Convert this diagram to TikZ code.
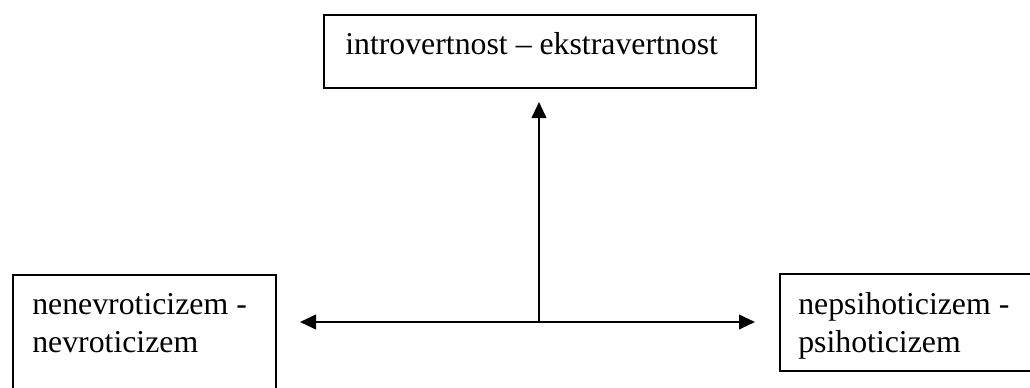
\documentclass[tikz,border=0pt]{standalone}
\usepackage{fontspec}
\setmainfont{Liberation Serif}
\usetikzlibrary{arrows.meta}
\begin{document}
\begin{tikzpicture}[x=0.75pt,y=-0.75pt,
  box/.style={draw, line width=1.4pt, inner sep=0pt, anchor=north west},
  lbl/.style={inner sep=0pt, align=left, anchor=base west, font=\fontsize{23.85pt}{28.5pt}\selectfont},
  arr/.style={line width=1.4pt, -{Triangle[length=12pt,width=11pt]}},
  darr/.style={line width=1.4pt, {Triangle[length=12pt,width=11pt]}-{Triangle[length=12pt,width=11pt]}}]
\useasboundingbox (0,0) rectangle (1030,387);
\clip (0,0) rectangle (1030,387);
\node[box, minimum width=324pt, minimum height=54.75pt] (topbox) at (323,14) {};
\node[box, minimum width=197.25pt, minimum height=102pt] (leftbox) at (12,274) {};
\node[box, minimum width=210.75pt, minimum height=72.75pt] (rightbox) at (779,273) {};
\node[lbl] (toptext) at (345,54) {introvertnost – ekstravertnost};
\node[lbl] (lefttext) at (32,352) {nenevroticizem -\\nevroticizem};
\node[lbl] (righttext) at (798,352) {nepsihoticizem -\\psihoticizem};
\coordinate (C) at (539,322);
\coordinate (T) at (539,102);
\coordinate (L) at (300,322);
\coordinate (R) at (755,322);
\draw[darr] (L) -- (R);
\draw[arr] (C) -- (T);
\end{tikzpicture}
\end{document}
